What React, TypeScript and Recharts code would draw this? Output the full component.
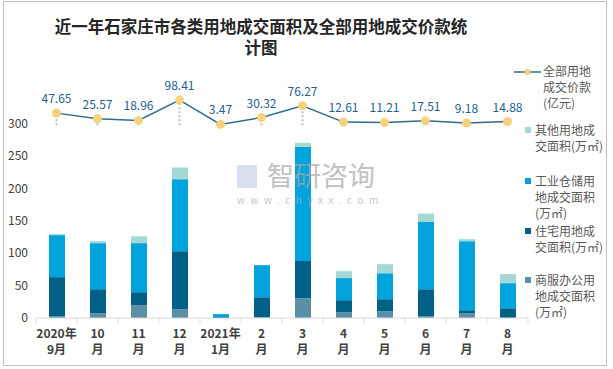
import React from 'react';
import {
  ComposedChart,
  Bar,
  Line,
  XAxis,
  YAxis,
  LabelList,
  ErrorBar
} from 'recharts';

// 月份（两行显示）
const tickTop = ['2020年', '10', '11', '12', '2021年', '2', '3', '4', '5', '6', '7', '8'];
const tickBottom = ['9月', '月', '月', '月', '1月', '月', '月', '月', '月', '月', '月', '月'];

// 面积（万㎡）
const commercial = [2.8, 7.4, 19.8, 13.6, 0, 1.2, 30.5, 9, 10.5, 2.8, 7.4, 0];
const residential = [60.2, 37, 20, 89.4, 1.5, 30.8, 57.5, 18.5, 18.5, 41.6, 4.6, 15];
const industrial = [64.8, 71, 75.6, 111, 4.5, 49.5, 176, 34, 40, 103.6, 106.5, 38.7];
const other = [1.5, 3.1, 10.6, 18, 0, 0, 6, 10.8, 14, 13, 3.1, 14];

// 全部用地成交价款（亿元）
const price = [47.65, 25.57, 18.96, 98.41, 3.47, 30.32, 76.27, 12.61, 11.21, 17.51, 9.18, 14.88];

const yTicks = [0, 50, 100, 150, 200, 250, 300];

const COLORS = {
  commercial: '#5b8fa7',
  residential: '#006086',
  industrial: '#00a3dc',
  other: '#a3d8d5',
  line: '#2d6e8c',
  dot: '#f6d27e'
};

const FONT = '"Noto Sans CJK SC", "Noto Sans", sans-serif';

const chartData = tickTop.map((t, i) => ({
  name: t + tickBottom[i],
  top: t,
  bottom: tickBottom[i],
  commercial: commercial[i],
  residential: residential[i],
  industrial: industrial[i],
  other: other[i],
  price: price[i],
  drop: [price[i], 0]
}));

const MonthTick = (props: any) => {
  const { x, y, payload, index } = props;
  const i = payload.index ?? index;
  const d = chartData[i];
  const half = 20.5;
  return (
    <g>
      <line x1={x - half} y1={y - 8} x2={x - half} y2={y - 3} stroke="#d9d9d9" />
      {i === chartData.length - 1 && (
        <line x1={x + half} y1={y - 8} x2={x + half} y2={y - 3} stroke="#d9d9d9" />
      )}
      <text x={x} y={y + 12} textAnchor="middle" fontSize={12} fontWeight="bold" fill="#404040" fontFamily={FONT}>
        <tspan x={x} dy={0}>{d.top}</tspan>
        <tspan x={x} dy={16}>{d.bottom}</tspan>
      </text>
    </g>
  );
};

const legendText: React.CSSProperties = {
  position: 'absolute',
  fontSize: 12,
  lineHeight: '16px',
  color: '#595959',
  fontFamily: FONT,
  whiteSpace: 'nowrap'
};

const titleLine: React.CSSProperties = {
  position: 'absolute',
  left: 40,
  width: 442,
  height: 19,
  textAlign: 'center',
  fontSize: 16.5,
  lineHeight: '19px',
  fontWeight: 'bold',
  color: '#262626',
  fontFamily: FONT,
  whiteSpace: 'nowrap'
};

const Square = ({ color, top }: { color: string; top: number }) => (
  <div style={{ position: 'absolute', left: 525, top, width: 6, height: 6, background: color }} />
);

const App: React.FC = () => {
  return (
    <div style={{ position: 'absolute', left: 0, top: 0, width: 613, height: 369, background: '#fff' }}>
      <div
        style={{
          position: 'absolute',
          left: 3,
          top: 1,
          width: 602,
          height: 363,
          border: '1px solid #bfbfbf'
        }}
      />
      <div style={{ ...titleLine, top: 17 }}>近一年石家庄市各类用地成交面积及全部用地成交价款统</div>
      <div style={{ ...titleLine, top: 38 }}>计图</div>

      <div style={{ position: 'absolute', left: 0, top: 0 }}>
        <ComposedChart
          width={613}
          height={369}
          data={chartData}
          margin={{ top: 91, right: 85, bottom: 0, left: 0 }}
          barSize={16}
        >
          <XAxis
            dataKey="name"
            axisLine={{ stroke: '#d9d9d9' }}
            tickLine={false}
            tick={<MonthTick />}
            height={51}
            interval={0}
          />
          <YAxis
            yAxisId="left"
            domain={[0, 350]}
            ticks={yTicks}
            axisLine={false}
            tickLine={false}
            width={36}
            tick={{ fontSize: 12, fill: '#404040', fontFamily: FONT }}
          />
          <YAxis yAxisId="right" orientation="right" domain={[-752, 134]} hide />
          <Bar yAxisId="left" dataKey="commercial" stackId="a" fill={COLORS.commercial} isAnimationActive={false} />
          <Bar yAxisId="left" dataKey="residential" stackId="a" fill={COLORS.residential} isAnimationActive={false} />
          <Bar yAxisId="left" dataKey="industrial" stackId="a" fill={COLORS.industrial} isAnimationActive={false} />
          <Bar yAxisId="left" dataKey="other" stackId="a" fill={COLORS.other} isAnimationActive={false} />
          <Line
            yAxisId="right"
            dataKey="price"
            stroke={COLORS.line}
            strokeWidth={1.5}
            dot={{ r: 4.5, fill: COLORS.dot, stroke: COLORS.dot, strokeWidth: 0 }}
            activeDot={false}
            isAnimationActive={false}
          >
            <ErrorBar
              dataKey="drop"
              direction="y"
              width={0}
              stroke="#c0c0c0"
              strokeWidth={2}
              strokeDasharray="2 2"
              isAnimationActive={false}
            />
            <LabelList
              dataKey="price"
              position="top"
              offset={10}
              fontSize={12}
              fill="#24608c"
              fontFamily={FONT}
            />
          </Line>
        </ComposedChart>
      </div>

      {/* 水印 */}
      <div style={{ position: 'absolute', left: 237, top: 165, pointerEvents: 'none', opacity: 0.7 }}>
        <div style={{ position: 'absolute', left: 0, top: 0, width: 20, height: 23, background: '#c9d3e6' }} />
        <div
          style={{
            position: 'absolute',
            left: 30,
            top: -5,
            fontSize: 27,
            lineHeight: '30px',
            color: '#a8a8a8',
            fontFamily: FONT,
            whiteSpace: 'nowrap'
          }}
        >
          智研咨询
        </div>
        <div
          style={{
            position: 'absolute',
            left: 0,
            top: 27,
            fontSize: 10,
            letterSpacing: 5.5,
            color: '#b0b0b0',
            fontFamily: FONT,
            whiteSpace: 'nowrap'
          }}
        >
          www.chyxx.com
        </div>
      </div>

      {/* 图例 */}
      <svg style={{ position: 'absolute', left: 513, top: 67 }} width={30} height={10}>
        <line x1={1} y1={5} x2={28} y2={5} stroke={COLORS.line} strokeWidth={1.5} />
        <circle cx={14.5} cy={5} r={3} fill={COLORS.dot} />
      </svg>
      <div style={{ ...legendText, left: 543, top: 63 }}>
        全部用地
        <br />
        成交价款
        <br />
        (亿元)
      </div>

      <Square color={COLORS.other} top={127} />
      <div style={{ ...legendText, left: 535, top: 122 }}>
        其他用地成
        <br />
        交面积(万㎡)
      </div>

      <Square color={COLORS.industrial} top={178} />
      <div style={{ ...legendText, left: 535, top: 173 }}>
        工业仓储用
        <br />
        地成交面积
        <br />
        (万㎡)
      </div>

      <Square color={COLORS.residential} top={228} />
      <div style={{ ...legendText, left: 535, top: 223 }}>
        住宅用地成
        <br />
        交面积(万㎡)
      </div>

      <Square color={COLORS.commercial} top={277} />
      <div style={{ ...legendText, left: 535, top: 272 }}>
        商服办公用
        <br />
        地成交面积
        <br />
        (万㎡)
      </div>
    </div>
  );
};

export default App;
